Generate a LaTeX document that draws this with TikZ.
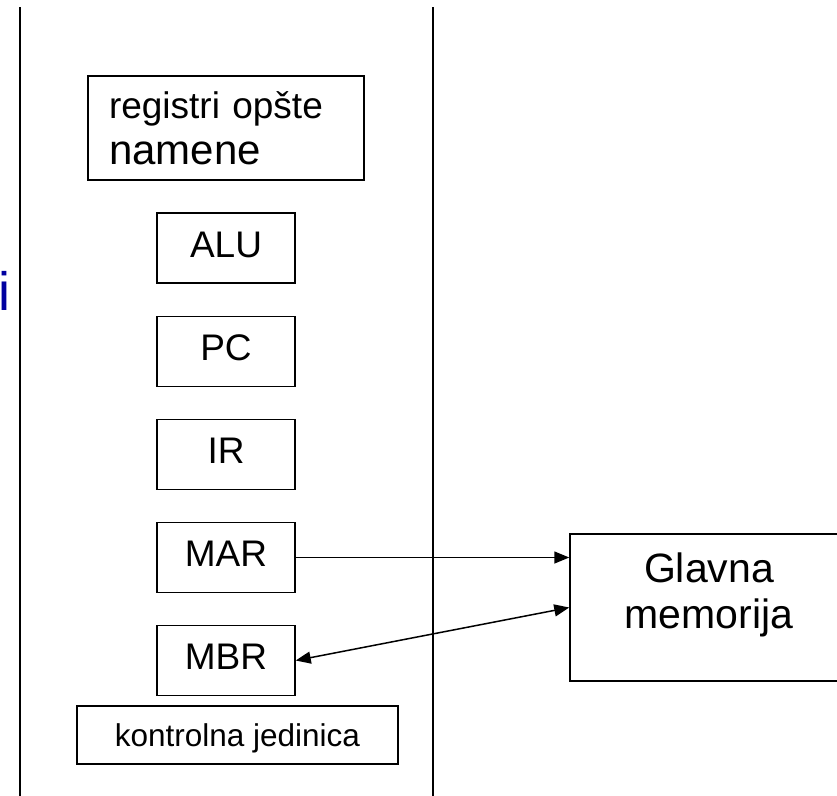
\documentclass[tikz,border=0pt]{standalone}
\usepackage{fontspec}
\setmainfont{Liberation Sans}
\usetikzlibrary{arrows.meta}
\definecolor{titleblue}{RGB}{0,0,160}

\begin{document}
\begin{tikzpicture}[
        x=1pt, y=-1pt,
        reg/.style={draw, line width=1.5pt, inner sep=0pt, minimum width=138pt,
            text height=44pt, text depth=26pt, font=\fontsize{37}{44}\selectfont},
        arrow/.style={-{Triangle[length=15pt,width=12pt]}, line width=1.5pt},
        twoway/.style={{Triangle[length=15pt,width=12pt]}-{Triangle[length=15pt,width=12pt]}, line width=1.5pt},
        divider/.style={line width=1.5pt}
    ]
    \clip (0,0) rectangle (837,795);

    % Clipped title letter on the left
    \node[anchor=base west, inner sep=0pt, text=titleblue, font=\fontsize{54}{60}\selectfont] (title) at (-2,310) {i};

    % Divider lines
    \coordinate (ltop) at (20,7);
    \coordinate (lbot) at (20,800);
    \coordinate (mtop) at (433,7);
    \coordinate (mbot) at (433,800);
    \draw[divider] (ltop) -- (lbot);
    \draw[divider] (mtop) -- (mbot);

    % Processor registers
    \node[draw, line width=1.5pt, minimum width=276pt, minimum height=104pt, text width=234pt,
        inner xsep=21pt, inner ysep=0pt, align=left, font=\fontsize{37}{46}\selectfont] (gpr) at (226,128)
        {registri opšte\\ {\fontsize{42}{46}\selectfont namene}};
    \node[reg] (alu) at (226,248) {ALU};
    \node[reg] (pc) at (226,351.5) {PC};
    \node[reg] (ir) at (226,454.5) {IR};
    \node[reg] (mar) at (226,557.5) {MAR};
    \node[reg] (mbr) at (226,660.5) {MBR};
    \node[draw, line width=1.5pt, inner sep=0pt, minimum width=321pt, text height=40pt, text depth=18pt,
        font=\fontsize{31.5}{36}\selectfont] (cu) at (237.5,735) {kontrolna jedinica};

    % Main memory
    \node[draw, line width=1.5pt, minimum width=278pt, minimum height=147pt,
        label={[yshift=13pt, align=center, font=\fontsize{41}{46}\selectfont]center:Glavna\\memorija}] (mem) at (709,607.5) {};

    % Connections to memory
    \draw[arrow] (mar.east) -- (mar.east -| mem.west);
    \draw[twoway] (mbr.east) -- (mem.west);

\end{tikzpicture}
\end{document}
